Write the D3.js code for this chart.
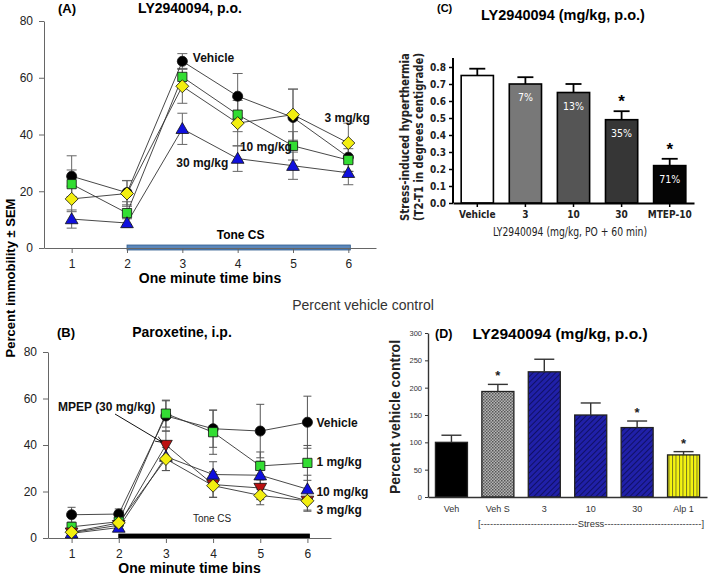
<!DOCTYPE html>
<html>
<head>
<meta charset="utf-8">
<script src="https://cdn.jsdelivr.net/npm/d3@7"></script>
<style>
  body { margin: 0; background: #fff; }
  svg { display: block; }
  text { font-family: "Liberation Sans", Arial, sans-serif; }
  .narrow { font-family: "Liberation Sans Narrow", "Arial Narrow", "DejaVu Sans Condensed", "Liberation Sans", sans-serif; font-stretch: condensed; }
</style>
</head>
<body>
<svg id="fig" width="709" height="578"></svg>
<script>
// ---- data ----
var bins = [1, 2, 3, 4, 5, 6];

// panel A: LY2940094 p.o., percent immobility
var aVehicle = [25.3, 19.5, 65.8, 53.5, 46.0, 32.0];
var aVehicleErr = [7.2, 4.3, 2.7, 8.0, 10.0, 5.0];
var a10 = [22.5, 12.3, 60.3, 47.0, 36.0, 31.0];
var a10Err = [5.0, 4.0, 3.0, 6.0, 5.0, 4.0];
var a30 = [10.2, 8.8, 42.0, 31.5, 29.0, 26.5];
var a30Err = [3.2, 1.5, 5.5, 4.5, 4.8, 4.2];
var a3 = [17.3, 19.2, 57.0, 44.0, 47.0, 37.0];
var a3Err = [4.5, 4.5, 6.0, 8.0, 9.0, 7.0];

// panel B: paroxetine i.p.
var bVehicle = [10.0, 10.3, 52.5, 47.0, 46.0, 49.8];
var bVehicleErr = [3.2, 2.2, 6.5, 8.0, 11.5, 11.2];
var b1 = [4.8, 7.0, 53.5, 45.5, 31.0, 32.3];
var b1Err = [1.5, 1.5, 5.8, 9.5, 6.0, 7.5];
var bMpep = [2.3, 5.5, 40.0, 23.0, 21.5, 16.0];
var bMpepErr = [1.0, 1.5, 6.0, 5.5, 5.0, 4.0];
var b10 = [2.0, 4.5, 35.0, 27.3, 27.0, 21.0];
var b10Err = [1.0, 1.0, 6.0, 5.5, 6.0, 6.0];
var b3 = [2.5, 6.5, 34.0, 22.5, 18.3, 16.0];
var b3Err = [1.0, 1.5, 5.0, 5.0, 4.0, 4.5];

// panel C: stress-induced hyperthermia
var cCats = ["Vehicle", "3", "10", "30", "MTEP-10"];
var cVals = [0.75, 0.70, 0.65, 0.49, 0.22];
var cErrs = [0.04, 0.04, 0.05, 0.05, 0.04];
var cPct = ["", "7%", "13%", "35%", "71%"];
var cStar = [false, false, false, true, true];
var cTicks = [0, 0.1, 0.2, 0.3, 0.4, 0.5, 0.6, 0.7, 0.8];

// panel D: percent vehicle control
var dCats = ["Veh", "Veh S", "3", "10", "30", "Alp 1"];
var dVals = [100, 193, 229, 150, 127, 77];
var dErrs = [13, 13, 23, 22, 12, 6];
var dStar = [false, true, false, false, true, true];
var dTicks = [0, 50, 100, 150, 200, 250, 300];

var svg = d3.select("#fig");
var defs = svg.append("defs");

function diamondPath(s) {
  return "M0," + (-s) + "L" + s + ",0L0," + s + "L" + (-s) + ",0Z";
}
var shapes = {
  circle: d3.symbol().type(d3.symbolCircle).size(80)(),
  square: d3.symbol().type(d3.symbolSquare).size(85)(),
  triangle: d3.symbol().type(d3.symbolTriangle).size(70)(),
  diamond: diamondPath(6.5)
};

function linePanel(cfg) {
  var g = svg.append("g");
  var x = d3.scaleLinear().domain([0.5, 6.5]).range([cfg.left, cfg.right]);
  var y = d3.scaleLinear().domain([0, 80]).range([cfg.bottom, cfg.top]);

  // tone bar
  g.append("rect")
    .attr("x", x(2)).attr("width", x(6) - x(2) + 2)
    .attr("y", cfg.toneY).attr("height", cfg.toneH)
    .attr("fill", cfg.toneFill).attr("stroke", cfg.toneStroke).attr("stroke-width", 0.8);

  var ax = g.append("g").attr("transform", "translate(" + cfg.left + ",0)");
  ax.call(d3.axisLeft(y).tickValues(d3.range(0, 81, 5)).tickSize(3).tickFormat(""));
  ax.call(d3.axisLeft(y).tickValues([0, 20, 40, 60, 80]).tickSize(5).tickSizeOuter(0).tickPadding(6));
  ax.selectAll("path, line").attr("stroke", "#666");
  ax.selectAll("text").attr("font-size", 12).attr("fill", "#222");

  var bx = g.append("g").attr("transform", "translate(0," + cfg.bottom + ")");
  bx.call(d3.axisBottom(x).tickValues(bins).tickFormat(d3.format("d")).tickSize(5).tickSizeOuter(0).tickPadding(6));
  bx.selectAll("path, line").attr("stroke", "#666");
  bx.selectAll("text").attr("font-size", 12).attr("fill", "#222");

  cfg.series.forEach(function(s) {
    var eg = g.append("g").attr("stroke", cfg.errColor).attr("stroke-width", 1);
    bins.forEach(function(b, i) {
      var cx = x(b), hi = y(s.vals[i] + s.errs[i]), lo = y(Math.max(0, s.vals[i] - s.errs[i]));
      eg.append("line").attr("x1", cx).attr("x2", cx).attr("y1", hi).attr("y2", lo);
      eg.append("line").attr("x1", cx - cfg.cap).attr("x2", cx + cfg.cap).attr("y1", hi).attr("y2", hi);
      eg.append("line").attr("x1", cx - cfg.cap).attr("x2", cx + cfg.cap).attr("y1", lo).attr("y2", lo);
    });
  });
  cfg.series.forEach(function(s) {
    g.append("path")
      .attr("d", d3.line().x(function(d, i) { return x(bins[i]); }).y(function(d) { return y(d); })(s.vals))
      .attr("fill", "none").attr("stroke", "#333").attr("stroke-width", 0.9);
  });
  cfg.series.forEach(function(s) {
    g.selectAll(null).data(s.vals).enter().append("path")
      .attr("d", shapes[s.shape])
      .attr("transform", function(d, i) {
        return "translate(" + x(bins[i]) + "," + (y(d) + (s.shape === "triangle" ? (s.down ? -1 : 1) : 0)) + ")" + (s.down ? " rotate(180)" : "");
      })
      .attr("fill", s.fill).attr("stroke", "#111").attr("stroke-width", 0.8);
  });

  g.append("text").attr("x", cfg.left + cfg.tagDx).attr("y", cfg.titleY)
    .attr("font-size", 13).attr("font-weight", "bold").text(cfg.tag);
  g.append("text").attr("x", cfg.titleX).attr("y", cfg.titleY).attr("text-anchor", "middle")
    .attr("font-size", 14).attr("font-weight", "bold").text(cfg.title);
  g.append("text").attr("x", (x(1) + x(6)) / 2).attr("y", cfg.bottom + 35).attr("text-anchor", "middle")
    .attr("font-size", 14).attr("font-weight", "bold").text("One minute time bins");
  return {g: g, x: x, y: y};
}

// ---- panel A ----
var A = linePanel({
  left: 44, right: 376, top: 21, bottom: 248,
  toneY: 245, toneH: 5, toneFill: "#5b87bb", toneStroke: "#2f5b8c",
  errColor: "#666", cap: 5,
  tag: "(A)", tagDx: 14, title: "LY2940094, p.o.", titleX: 190, titleY: 13,
  series: [
    {vals: aVehicle, errs: aVehicleErr, shape: "circle", fill: "#000"},
    {vals: a10, errs: a10Err, shape: "square", fill: "#33dd33"},
    {vals: a30, errs: a30Err, shape: "triangle", fill: "#1010dd"},
    {vals: a3, errs: a3Err, shape: "diamond", fill: "#f2ee10"}
  ]
});
A.g.append("text").attr("x", A.x(4) + 3).attr("y", 239).attr("text-anchor", "middle")
  .attr("font-size", 12).attr("font-weight", "bold").text("Tone CS");
var labA = [["Vehicle", 3.19, 65.5], ["3 mg/kg", 5.57, 44.5], ["10 mg/kg", 4.04, 34.2], ["30 mg/kg", 2.89, 28.5]];
labA.forEach(function(l) {
  A.g.append("text").attr("x", A.x(l[1])).attr("y", A.y(l[2]))
    .attr("font-size", 12).attr("font-weight", "bold").attr("fill", "#111").text(l[0]);
});

// ---- panel B ----
var B = linePanel({
  left: 48, right: 331, top: 352, bottom: 538,
  toneY: 534, toneH: 4, toneFill: "#000", toneStroke: "#000",
  errColor: "#555", cap: 4,
  tag: "(B)", tagDx: 9, title: "Paroxetine, i.p.", titleX: 182, titleY: 337,
  series: [
    {vals: bVehicle, errs: bVehicleErr, shape: "circle", fill: "#000"},
    {vals: b1, errs: b1Err, shape: "square", fill: "#33dd33"},
    {vals: bMpep, errs: bMpepErr, shape: "triangle", fill: "#bb1111", down: true},
    {vals: b10, errs: b10Err, shape: "triangle", fill: "#1010dd"},
    {vals: b3, errs: b3Err, shape: "diamond", fill: "#f2ee10"}
  ]
});
B.g.append("text").attr("x", B.x(4) - 1).attr("y", 522).attr("text-anchor", "middle")
  .attr("font-size", 10).attr("fill", "#222").text("Tone CS");
var labB = [["Vehicle", 49.5], ["1 mg/kg", 32.5], ["10 mg/kg", 19.8], ["3 mg/kg", 12.2]];
labB.forEach(function(l) {
  B.g.append("text").attr("x", B.x(6) + 9).attr("y", B.y(l[1]) + 4)
    .attr("font-size", 12).attr("font-weight", "bold").attr("fill", "#111").text(l[0]);
});
defs.append("marker").attr("id", "arr").attr("viewBox", "0 0 10 10").attr("refX", 9).attr("refY", 5)
  .attr("markerWidth", 7).attr("markerHeight", 7).attr("orient", "auto")
  .append("path").attr("d", "M0,1L10,5L0,9").attr("fill", "none").attr("stroke", "#111").attr("stroke-width", 1.2);
B.g.append("line").attr("x1", 115).attr("y1", 414).attr("x2", B.x(3) - 4).attr("y2", B.y(bMpep[2]) - 3)
  .attr("stroke", "#111").attr("stroke-width", 1).attr("marker-end", "url(#arr)");
B.g.append("text").attr("x", 58).attr("y", 411).attr("font-size", 12).attr("font-weight", "bold")
  .attr("fill", "#111").text("MPEP (30 mg/kg)");

// shared y label for A and B
svg.append("text").attr("transform", "translate(15,278) rotate(-90)").attr("text-anchor", "middle")
  .attr("font-size", 13).attr("font-weight", "bold").text("Percent immobility \u00b1 SEM");
svg.append("text").attr("x", 363).attr("y", 310).attr("text-anchor", "middle")
  .attr("font-size", 14).attr("fill", "#333").text("Percent vehicle control");

// ---- panel C ----
(function() {
  var g = svg.append("g");
  var left = 453, right = 694, top = 58, bottom = 203;
  var x = d3.scaleBand().domain(cCats).range([left, right]).paddingInner(0.33).paddingOuter(0.17);
  var y = d3.scaleLinear().domain([0, 0.8]).range([bottom, 67]);
  var fills = ["#ffffff", "#787878", "#555555", "#363636", "#050505"];

  g.selectAll(".bar").data(cVals).enter().append("rect")
    .attr("x", function(d, i) { return x(cCats[i]); }).attr("width", x.bandwidth())
    .attr("y", function(d) { return y(d); }).attr("height", function(d) { return bottom - y(d); })
    .attr("fill", function(d, i) { return fills[i]; }).attr("stroke", "#000").attr("stroke-width", 1.6);
  cVals.forEach(function(v, i) {
    var cx = x(cCats[i]) + x.bandwidth() / 2, t = y(v + cErrs[i]);
    g.append("line").attr("x1", cx).attr("x2", cx).attr("y1", y(v)).attr("y2", t).attr("stroke", "#000").attr("stroke-width", 1.8);
    g.append("line").attr("x1", cx - 8).attr("x2", cx + 8).attr("y1", t).attr("y2", t).attr("stroke", "#000").attr("stroke-width", 1.8);
    if (cPct[i]) {
      g.append("text").attr("class", "narrow").attr("x", cx).attr("y", y(v) + 17).attr("text-anchor", "middle")
        .attr("font-size", 10.5).attr("fill", "#fff").text(cPct[i]);
    }
    if (cStar[i]) {
      g.append("text").attr("x", cx).attr("y", t - 4).attr("text-anchor", "middle")
        .attr("font-size", 17).attr("font-weight", "bold").text("*");
    }
  });

  var ay = g.append("g").attr("transform", "translate(" + left + ",0)")
    .call(d3.axisLeft(y).tickValues(cTicks).tickFormat(d3.format(".1f")).tickSize(4).tickSizeOuter(0).tickPadding(3));
  ay.select(".domain").attr("d", "M0," + top + "V" + bottom).attr("stroke-width", 2);
  ay.selectAll("line").attr("stroke-width", 1.5);
  ay.selectAll("text").attr("class", "narrow").attr("font-size", 10).attr("font-weight", "bold").attr("fill", "#222");
  var axb = g.append("g").attr("transform", "translate(0," + bottom + ")")
    .call(d3.axisBottom(x).tickSize(4).tickSizeOuter(0).tickPadding(4));
  axb.select(".domain").attr("stroke-width", 2);
  axb.selectAll("line").attr("stroke-width", 1.5);
  axb.selectAll("text").attr("class", "narrow").attr("font-size", 10).attr("font-weight", "bold").attr("fill", "#222");

  g.append("text").attr("class", "narrow").attr("x", 570).attr("y", 236).attr("text-anchor", "middle")
    .attr("font-size", 12).attr("fill", "#222")
    .attr("textLength", 154).attr("lengthAdjust", "spacingAndGlyphs").text("LY2940094 (mg/kg, PO + 60 min)");
  var yl = g.append("text").attr("class", "narrow").attr("transform", "translate(411,137) rotate(-90)")
    .attr("text-anchor", "middle").attr("font-size", 13).attr("font-weight", "bold").attr("fill", "#222");
  yl.append("tspan").attr("x", 0).attr("dy", -2).attr("textLength", 168).attr("lengthAdjust", "spacingAndGlyphs")
    .text("Stress-induced hyperthermia");
  yl.append("tspan").attr("x", 0).attr("dy", 14).attr("textLength", 168).attr("lengthAdjust", "spacingAndGlyphs")
    .text("(T2-T1 in degrees centigrade)");
  g.append("text").attr("x", 437).attr("y", 12).attr("font-size", 11).attr("font-weight", "bold").text("(C)");
  g.append("text").attr("x", 563).attr("y", 20).attr("text-anchor", "middle")
    .attr("font-size", 14.5).attr("font-weight", "bold").text("LY2940094 (mg/kg, p.o.)");
})();

// ---- panel D ----
(function() {
  var g = svg.append("g");
  var left = 428, right = 707, bottom = 497;
  var x = d3.scaleBand().domain(dCats).range([left, right]).paddingInner(0.31).paddingOuter(0.16);
  var y = d3.scaleLinear().domain([0, 300]).range([bottom, 333]);

  var p1 = defs.append("pattern").attr("id", "dots").attr("patternUnits", "userSpaceOnUse").attr("width", 3).attr("height", 3);
  p1.append("rect").attr("width", 3).attr("height", 3).attr("fill", "#b5b5b5");
  p1.append("rect").attr("width", 1.5).attr("height", 1.5).attr("fill", "#555");
  p1.append("rect").attr("x", 1.5).attr("y", 1.5).attr("width", 1.5).attr("height", 1.5).attr("fill", "#666");
  var p2 = defs.append("pattern").attr("id", "hatch").attr("patternUnits", "userSpaceOnUse")
    .attr("width", 4).attr("height", 4).attr("patternTransform", "rotate(45)");
  p2.append("rect").attr("width", 4).attr("height", 4).attr("fill", "#2020a8");
  p2.append("line").attr("x1", 0).attr("y1", 0).attr("x2", 0).attr("y2", 4).attr("stroke", "#0b0b55").attr("stroke-width", 1.6);
  var p3 = defs.append("pattern").attr("id", "vlines").attr("patternUnits", "userSpaceOnUse").attr("width", 3.5).attr("height", 4);
  p3.append("rect").attr("width", 3.5).attr("height", 4).attr("fill", "#f4f410");
  p3.append("line").attr("x1", 0.5).attr("y1", 0).attr("x2", 0.5).attr("y2", 4).attr("stroke", "#6b6b20").attr("stroke-width", 0.9);
  var fills = ["#000", "url(#dots)", "url(#hatch)", "url(#hatch)", "url(#hatch)", "url(#vlines)"];

  g.selectAll(".bar").data(dVals).enter().append("rect")
    .attr("x", function(d, i) { return x(dCats[i]); }).attr("width", x.bandwidth())
    .attr("y", function(d) { return y(d); }).attr("height", function(d) { return bottom - y(d); })
    .attr("fill", function(d, i) { return fills[i]; }).attr("stroke", "#222").attr("stroke-width", 1.3);
  dVals.forEach(function(v, i) {
    var cx = x(dCats[i]) + x.bandwidth() / 2, t = y(v + dErrs[i]);
    g.append("line").attr("x1", cx).attr("x2", cx).attr("y1", y(v)).attr("y2", t).attr("stroke", "#333").attr("stroke-width", 1.4);
    g.append("line").attr("x1", cx - 10).attr("x2", cx + 10).attr("y1", t).attr("y2", t).attr("stroke", "#333").attr("stroke-width", 1.4);
    if (dStar[i]) {
      g.append("text").attr("x", cx).attr("y", t - 4).attr("text-anchor", "middle")
        .attr("font-size", 13).attr("font-weight", "bold").attr("fill", "#222").text("*");
    }
  });

  var ay = g.append("g").attr("transform", "translate(" + left + ",0)")
    .call(d3.axisLeft(y).tickValues(dTicks).tickSize(3).tickSizeOuter(0).tickPadding(3));
  ay.select(".domain").attr("stroke-width", 1.4).attr("stroke", "#333");
  ay.selectAll("line").attr("stroke", "#333");
  ay.selectAll("text").attr("font-size", 7.5).attr("fill", "#333");
  var axb = g.append("g").attr("transform", "translate(0," + bottom + ")")
    .call(d3.axisBottom(x).tickSize(0).tickSizeOuter(0).tickPadding(9));
  axb.select(".domain").attr("stroke-width", 1.4).attr("stroke", "#333");
  axb.selectAll("text").attr("font-size", 9).attr("fill", "#333");

  g.append("text").attr("x", 591).attr("y", 527).attr("text-anchor", "middle").attr("font-size", 9).attr("fill", "#333")
    .attr("textLength", 226).attr("lengthAdjust", "spacingAndGlyphs")
    .text("[-------------------------------Stress-------------------------------]");
  g.append("text").attr("transform", "translate(400,417) rotate(-90)").attr("text-anchor", "middle")
    .attr("font-size", 14).attr("font-weight", "bold").attr("fill", "#222").text("Percent vehicle control");
  g.append("text").attr("x", 435).attr("y", 338).attr("font-size", 12.5).attr("font-weight", "bold").text("(D)");
  g.append("text").attr("x", 560).attr("y", 339).attr("text-anchor", "middle")
    .attr("font-size", 15.5).attr("font-weight", "bold").text("LY2940094 (mg/kg, p.o.)");
})();
</script>
</body>
</html>
